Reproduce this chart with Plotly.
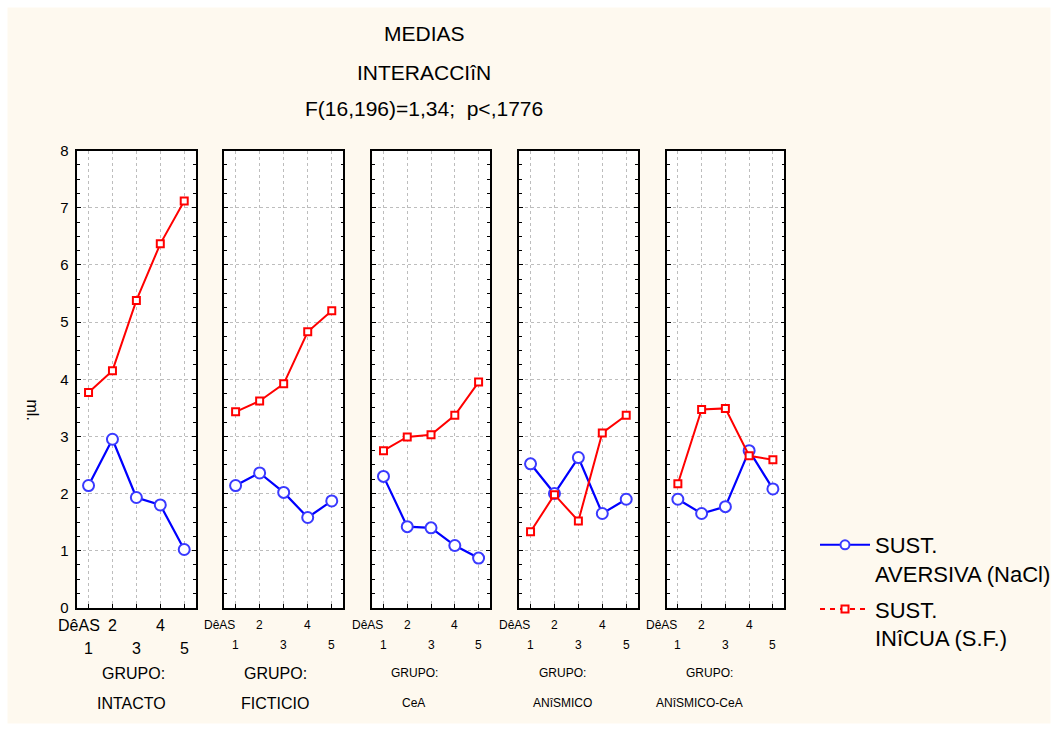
import plotly.graph_objects as go

# Mean volume (ml.) per day, for each surgical group
dias = [1, 2, 3, 4, 5]
grupos = ["INTACTO", "FICTICIO", "CeA", "ANîSMICO", "ANîSMICO-CeA"]

aversiva = [
    [2.14, 2.95, 1.93, 1.80, 1.02],   # INTACTO
    [2.14, 2.36, 2.02, 1.58, 1.87],   # FICTICIO
    [2.30, 1.42, 1.40, 1.09, 0.87],   # CeA
    [2.52, 2.00, 2.63, 1.65, 1.90],   # ANISMICO
    [1.90, 1.65, 1.77, 2.75, 2.08],   # ANISMICO-CeA
]
inocua = [
    [3.77, 4.15, 5.38, 6.37, 7.12],
    [3.43, 3.62, 3.92, 4.83, 5.20],
    [2.75, 2.99, 3.03, 3.37, 3.95],
    [1.33, 1.98, 1.52, 3.06, 3.37],
    [2.17, 3.47, 3.49, 2.66, 2.59],
]

serie_aversiva = "SUST.<br>AVERSIVA (NaCl)"
serie_inocua = "SUST.<br>INîCUA (S.F.)"
titulo = ["MEDIAS", "INTERACCIîN", "F(16,196)=1,34;  p<,1776"]
y_label = "ml."
y_ticks = [0, 1, 2, 3, 4, 5, 6, 7, 8]

W, H = 1058, 731
FONT = "Arial, Liberation Sans, sans-serif"
BLUE = "#0000FF"
BLUE_MK = "#3A3AFF"
RED = "#FF0000"
CREAM = "#FEF9EF"


def px(x):
    return x / W


def py(y):
    return 1 - y / H


# panel frames in pixels (left, right); shared vertical extent
panel_lr = [(77.3, 195.7), (224.3, 343.3), (372.3, 490.0), (519.3, 637.7), (666.7, 784.3)]
top_px, bot_px = 150.7, 607.8

fig = go.Figure()

for i in range(5):
    ax = "" if i == 0 else str(i + 1)
    fig.add_trace(go.Scatter(
        x=dias, y=aversiva[i], xaxis="x" + ax, yaxis="y" + ax,
        mode="lines+markers", showlegend=False,
        line=dict(color=BLUE, width=2.2),
        marker=dict(symbol="circle", size=11, color="white",
                    line=dict(color=BLUE_MK, width=2)),
    ))
    fig.add_trace(go.Scatter(
        x=dias, y=inocua[i], xaxis="x" + ax, yaxis="y" + ax,
        mode="lines+markers", showlegend=False,
        line=dict(color=RED, width=2),
        marker=dict(symbol="square", size=7, color="white",
                    line=dict(color=RED, width=2)),
    ))

# legend entries
fig.add_trace(go.Scatter(
    x=[None], y=[None], name=serie_aversiva, mode="lines+markers", legendgroup="a",
    line=dict(color=BLUE, width=2),
    marker=dict(symbol="circle", size=9, color="white", line=dict(color=BLUE_MK, width=2)),
))
fig.add_trace(go.Scatter(
    x=[None], y=[None], name=serie_inocua, mode="lines+markers", legendgroup="b",
    line=dict(color=RED, width=2, dash="5px,5px"),
    marker=dict(symbol="square", size=7, color="white", line=dict(color=RED, width=2)),
))

layout = dict(
    width=W, height=H,
    margin=dict(l=0, r=0, t=0, b=0, pad=0, autoexpand=False),
    paper_bgcolor=CREAM, plot_bgcolor="white",
    font=dict(family=FONT, color="black"),
    showlegend=True,
    legend=dict(x=px(815), y=py(524), xanchor="left", yanchor="top",
                bgcolor="rgba(0,0,0,0)", font=dict(size=22, family=FONT),
                valign="top", traceorder="grouped", tracegroupgap=4, itemwidth=50),
)

for i, (l, r) in enumerate(panel_lr):
    ax = "" if i == 0 else str(i + 1)
    layout["xaxis" + ax] = dict(
        domain=[px(l), px(r)], range=[0.53, 5.48],
        anchor="y" + ax,
        tickvals=dias, showticklabels=False,
        ticks="inside", ticklen=4, tickcolor="black",
        showline=True, mirror=True, linecolor="black", linewidth=1.6,
        showgrid=True, gridcolor="#BDBDBD", griddash="dot", gridwidth=1,
        zeroline=False, fixedrange=True,
    )
    layout["yaxis" + ax] = dict(
        domain=[py(bot_px), py(top_px)], range=[0, 8],
        anchor="x" + ax,
        tickvals=y_ticks, showticklabels=(i == 0),
        tickfont=dict(size=15, family=FONT), ticklabelstandoff=4,
        ticks="inside", ticklen=4, tickcolor="black",
        minor=dict(dtick=0.25, ticks="inside", ticklen=3, tickcolor="black", showgrid=False),
        showline=True, mirror="allticks", linecolor="black", linewidth=1.6,
        showgrid=True, gridcolor="#BDBDBD", griddash="dot", gridwidth=1,
        zeroline=False, fixedrange=True,
    )

annotations = []
# title lines
for txt, yy in zip(titulo, [34, 72, 109]):
    annotations.append(dict(text=txt, x=px(424), y=py(yy), xref="paper", yref="paper",
                            showarrow=False, xanchor="center", yanchor="middle",
                            font=dict(size=21, family=FONT)))
# y axis title
annotations.append(dict(text=y_label, x=px(22), y=py(410), xref="paper", yref="paper",
                        showarrow=False, textangle=90, font=dict(size=16, family=FONT)))

# day labels, staggered in two rows
for i in range(5):
    ax = "" if i == 0 else str(i + 1)
    big = i == 0
    fs = 16 if big else 12
    row1, row2 = (625, 648) if big else (625, 645)
    deas_x = 1.56 if big else 1.05
    annotations.append(dict(text="DêAS", x=deas_x, y=py(row1), xref="x" + ax, yref="paper",
                            showarrow=False, xanchor="right", yanchor="middle",
                            font=dict(size=fs, family=FONT)))
    for d in dias:
        annotations.append(dict(text=str(d), x=d, y=py(row1 if d % 2 == 0 else row2),
                                xref="x" + ax, yref="paper", showarrow=False,
                                xanchor="center", yanchor="middle",
                                font=dict(size=fs, family=FONT)))

# group labels below each panel
grupo_x = [(133, 131), (275, 275), (414, 413), (562, 562), (709, 699)]
for i, g in enumerate(grupos):
    fs = 16 if i < 2 else 12
    annotations.append(dict(text="GRUPO:", x=px(grupo_x[i][0]), y=py(673), xref="paper", yref="paper",
                            showarrow=False, xanchor="center", yanchor="middle",
                            font=dict(size=fs, family=FONT)))
    annotations.append(dict(text=g, x=px(grupo_x[i][1]), y=py(703), xref="paper", yref="paper",
                            showarrow=False, xanchor="center", yanchor="middle",
                            font=dict(size=fs, family=FONT)))

layout["annotations"] = annotations
# thin white border around the cream page
layout["shapes"] = [dict(type="rect", xref="paper", yref="paper", x0=0, x1=1, y0=0, y1=1,
                         line=dict(color="white", width=15), fillcolor="rgba(0,0,0,0)",
                         layer="above")]

fig.update_layout(**layout)
fig.write_html("out.html")
